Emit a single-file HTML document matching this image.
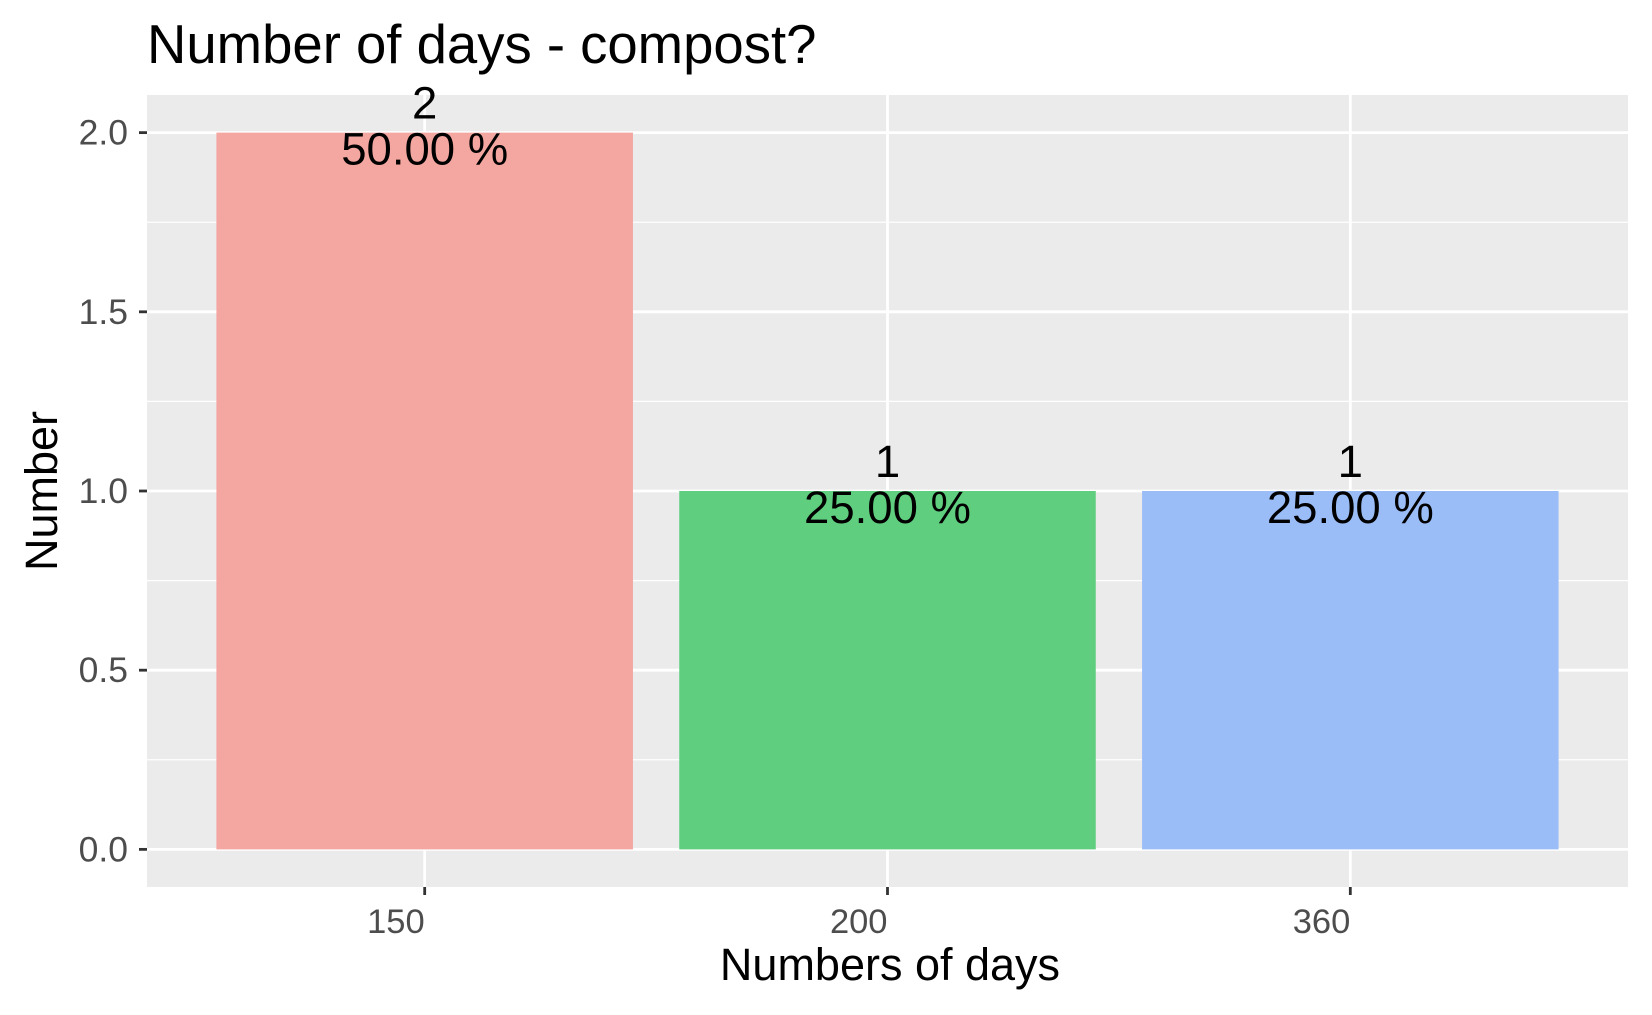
<!DOCTYPE html>
<html><head><meta charset="utf-8"><style>
html,body{margin:0;padding:0;background:#fff;}
svg{display:block;font-family:"Liberation Sans",Arial,sans-serif;}
</style></head><body>
<svg id="chart" width="1652" height="1015" viewBox="0 0 1652 1015" xmlns="http://www.w3.org/2000/svg">
<rect x="0" y="0" width="1652" height="1015" fill="#fff"/>
<text x="147" y="63" font-size="54.5" fill="#000">Number of days - compost?</text>
<rect x="147" y="95" width="1481" height="792" fill="#EBEBEB"/>
<g id="grid"></g>
<g id="bars"></g>
<g id="labels"></g>
<g id="axes"></g>
<text x="890" y="980" font-size="45" text-anchor="middle" fill="#000">Numbers of days</text>
<text transform="translate(57,491) rotate(-90)" font-size="45" text-anchor="middle" fill="#000">Number</text>
</svg>
<script>
const categories = ["150", "200", "360"];
const counts = [2, 1, 1];
const percentLabels = ["50.00 %", "25.00 %", "25.00 %"];
const yTicks = [0, 0.5, 1, 1.5, 2];
const yTickLabels = ["0.0", "0.5", "1.0", "1.5", "2.0"];
const colors = ["#F4A6A0", "#5FCE7F", "#9BBDF7"];

const NS = "http://www.w3.org/2000/svg";
const panelL = 147, panelR = 1628, panelT = 95, panelB = 887;
const yMin = -0.105, yMax = 2.105;
function yScale(v){ return panelB - (v - yMin) / (yMax - yMin) * (panelB - panelT); }
const xMin = 0.4, xMax = categories.length + 0.6;
function xScale(i){ return panelL + ((i + 1) - xMin) / (xMax - xMin) * (panelR - panelL); }
const unitW = (panelR - panelL) / (xMax - xMin);
function mk(tag, attrs, parent){ const e = document.createElementNS(NS, tag); for (const k in attrs) e.setAttribute(k, attrs[k]); parent.appendChild(e); return e; }

const grid = document.getElementById("grid");
for (let i = 0; i < yTicks.length - 1; i++) {
  const m = (yTicks[i] + yTicks[i+1]) / 2;
  const l = mk("line", {x1: panelL, x2: panelR, y1: yScale(m), y2: yScale(m), stroke: "#fff", "stroke-width": 1.3}, grid);
  
  
}
yTicks.forEach(t => {
  const l = mk("line", {x1: panelL, x2: panelR, y1: yScale(t), y2: yScale(t), stroke: "#fff", "stroke-width": 2.8}, grid);
  
  
});
categories.forEach((c, i) => {
  const l = mk("line", {x1: xScale(i), x2: xScale(i), y1: panelT, y2: panelB, stroke: "#fff", "stroke-width": 2.8}, grid);
  
  
});

const bars = document.getElementById("bars");
const labels = document.getElementById("labels");
categories.forEach((c, i) => {
  const bw = unitW * 0.9;
  const r = mk("rect", {x: xScale(i) - bw/2, y: yScale(counts[i]), width: bw, height: yScale(0) - yScale(counts[i]), fill: colors[i]}, bars);
  
  
  const t1 = mk("text", {x: xScale(i), y: yScale(counts[i]) - 14, "font-size": 45.5, "text-anchor": "middle", fill: "#000"}, labels);
  t1.textContent = String(counts[i]);
  
  
  const t2 = mk("text", {x: xScale(i), y: yScale(counts[i]) + 32, "font-size": 45.5, "text-anchor": "middle", fill: "#000"}, labels);
  t2.textContent = percentLabels[i];
  
  
});

const axes = document.getElementById("axes");
yTicks.forEach((t, i) => {
  const tk = mk("line", {x1: panelL - 8, x2: panelL, y1: yScale(t), y2: yScale(t), stroke: "#333", "stroke-width": 2.8}, axes);
  
  
  const tl = mk("text", {x: panelL - 19, y: yScale(t) + 12, "font-size": 35.5, "text-anchor": "end", fill: "#4D4D4D"}, axes);
  tl.textContent = yTickLabels[i];
  
  
});
categories.forEach((c, i) => {
  const tk = mk("line", {x1: xScale(i), x2: xScale(i), y1: panelB, y2: panelB + 8, stroke: "#333", "stroke-width": 2.8}, axes);
  
  
  const tl = mk("text", {x: xScale(i), y: panelB + 46, "font-size": 34.5, "text-anchor": "end", fill: "#4D4D4D"}, axes);
  tl.textContent = c;
  
  
});
</script>
</body></html>
